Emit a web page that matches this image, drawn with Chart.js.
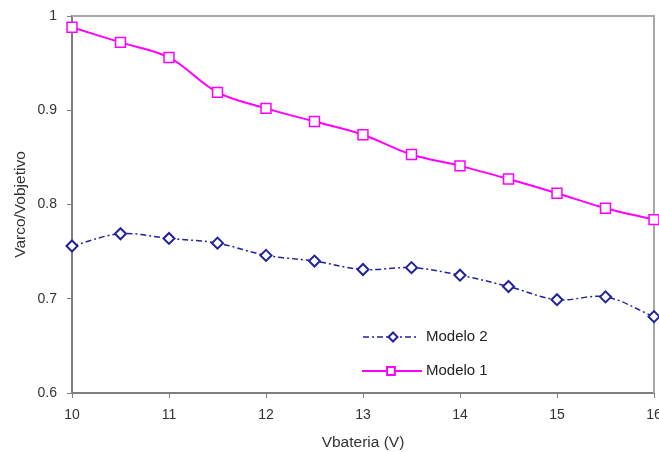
<!DOCTYPE html>
<html>
<head>
<meta charset="utf-8">
<script src="https://cdn.jsdelivr.net/npm/chart.js@4/dist/chart.umd.min.js"></script>
<style>
  html, body { margin: 0; padding: 0; background: #fff; }
  #wrap { width: 659px; height: 452px; position: relative; }
</style>
</head>
<body>
<div id="wrap"><canvas id="grafico"></canvas></div>
<script>
const vbateria = [10, 10.5, 11, 11.5, 12, 12.5, 13, 13.5, 14, 14.5, 15, 15.5, 16];
const modelo1 = [0.988, 0.972, 0.956, 0.919, 0.902, 0.888, 0.874, 0.853, 0.841, 0.827, 0.812, 0.796, 0.784];
const modelo2 = [0.756, 0.769, 0.764, 0.759, 0.746, 0.740, 0.731, 0.733, 0.725, 0.713, 0.699, 0.702, 0.681];
const xTicks = [10, 11, 12, 13, 14, 15, 16];
const yTicks = [0.6, 0.7, 0.8, 0.9, 1];

const azul = '#22229a';
const rosa = '#ff00ff';
const font = "'Liberation Sans', Arial, sans-serif";

const pares = (ys) => vbateria.map((x, i) => ({ x: x, y: ys[i] }));

// marco gris arriba y a la derecha, y leyenda con linea + marcador
const marco = {
  id: 'marco',
  beforeDatasetsDraw(chart) {
    const { ctx, chartArea: a } = chart;
    ctx.save();
    ctx.strokeStyle = '#a8a8a8';
    ctx.lineWidth = 2;
    ctx.beginPath();
    ctx.moveTo(a.left, a.top);
    ctx.lineTo(a.right, a.top);
    ctx.lineTo(a.right, a.bottom);
    ctx.stroke();
    ctx.restore();
  },
  afterDraw(chart) {
    const { ctx } = chart;
    ctx.save();
    const items = [
      { text: 'Modelo 2', color: azul, dash: [6, 3, 2, 3], style: 'rectRot', r: 4.5, x0: 363, x1: 417, mx: 393, y: 337 },
      { text: 'Modelo 1', color: rosa, dash: [], style: 'rect', r: 5.5, x0: 362, x1: 422, mx: 391, y: 371 }
    ];
    items.forEach(it => {
      ctx.setLineDash(it.dash);
      ctx.strokeStyle = it.color;
      ctx.lineWidth = it.style === 'rect' ? 2 : 1.5;
      ctx.beginPath();
      ctx.moveTo(it.x0, it.y);
      ctx.lineTo(it.x1, it.y);
      ctx.stroke();
      ctx.setLineDash([]);
      ctx.fillStyle = '#fff';
      ctx.lineWidth = 2;
      Chart.helpers.drawPoint(ctx, { pointStyle: it.style, radius: it.r, borderWidth: 2 }, it.mx, it.y);
      ctx.fillStyle = '#222';
      ctx.font = '15px ' + font;
      ctx.textBaseline = 'middle';
      ctx.fillText(it.text, 426, it.y);
    });
    ctx.restore();
  }
};

new Chart(document.getElementById('grafico'), {
  type: 'line',
  data: {
    datasets: [
      {
        label: 'Modelo 2',
        data: pares(modelo2),
        borderColor: azul,
        borderWidth: 1.5,
        borderDash: [6, 3, 2, 3],
        tension: 0.35,
        clip: false,
        pointStyle: 'rectRot',
        pointRadius: 5.5,
        pointBorderWidth: 2,
        pointBorderColor: azul,
        pointBackgroundColor: '#fff'
      },
      {
        label: 'Modelo 1',
        data: pares(modelo1),
        borderColor: rosa,
        borderWidth: 2,
        tension: 0.35,
        clip: false,
        pointStyle: 'rect',
        pointRadius: 7,
        pointBorderWidth: 1.5,
        pointBorderColor: rosa,
        pointBackgroundColor: '#fff'
      }
    ]
  },
  options: {
    responsive: true,
    maintainAspectRatio: false,
    animation: false,
    layout: { autoPadding: false, padding: { top: 16, right: 5, left: 0, bottom: 0 } },
    plugins: {
      legend: { display: false },
      tooltip: { enabled: false }
    },
    scales: {
      x: {
        type: 'linear',
        min: 10,
        max: 16,
        afterBuildTicks: s => { s.ticks = xTicks.map(v => ({ value: v })); },
        afterFit: s => { s.height = 59; s.paddingRight = 0; s.paddingLeft = 0; },
        grid: { drawOnChartArea: false, drawTicks: true, tickLength: 5, color: '#808080' },
        border: { color: '#808080', width: 2 },
        ticks: { color: '#333', padding: 9, maxRotation: 0, font: { family: font, size: 14 } },
        title: { display: true, text: 'Vbateria (V)', color: '#333', padding: { top: 0, bottom: 0 }, font: { family: font, size: 15.5 } }
      },
      y: {
        min: 0.6,
        max: 1,
        afterBuildTicks: s => { s.ticks = yTicks.map(v => ({ value: v })); },
        afterFit: s => { s.width = 72; s.paddingTop = 0; s.paddingBottom = 0; },
        grid: { drawOnChartArea: false, drawTicks: true, tickLength: 5, color: '#808080' },
        border: { color: '#808080', width: 2 },
        ticks: { color: '#333', padding: 10, font: { family: font, size: 14 }, callback: v => String(v) },
        title: { display: true, text: 'Varco/Vobjetivo', color: '#333', padding: { top: 11, bottom: 0 }, font: { family: font, size: 15.5 } }
      }
    }
  },
  plugins: [marco]
});
</script>
</body>
</html>
